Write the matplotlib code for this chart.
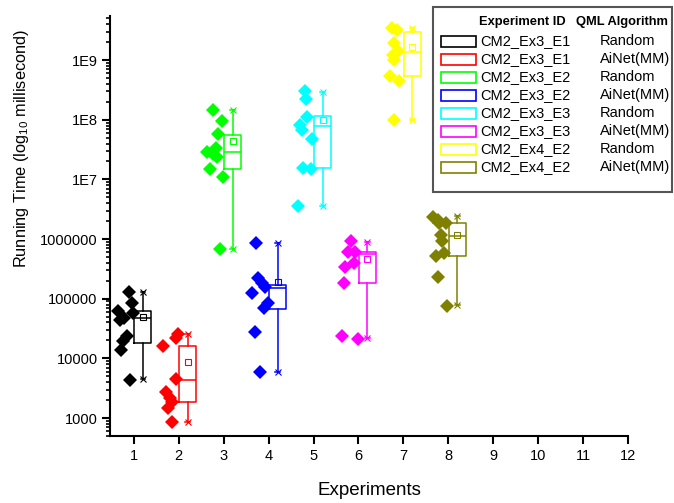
import matplotlib.pyplot as plt
from matplotlib.patches import Rectangle
from matplotlib.ticker import FixedLocator, FixedFormatter, LogLocator, NullFormatter

plt.rcParams['font.family'] = ['Liberation Sans', 'DejaVu Sans']
plt.rcParams['mathtext.fontset'] = 'custom'
plt.rcParams['mathtext.rm'] = 'Liberation Sans'
plt.rcParams['mathtext.it'] = 'Liberation Sans:italic'

# Experiment ID / QML algorithm per box
exp_ids = ['CM2_Ex3_E1', 'CM2_Ex3_E1', 'CM2_Ex3_E2', 'CM2_Ex3_E2',
           'CM2_Ex3_E3', 'CM2_Ex3_E3', 'CM2_Ex4_E2', 'CM2_Ex4_E2']
algorithms = ['Random', 'AiNet(MM)', 'Random', 'AiNet(MM)',
              'Random', 'AiNet(MM)', 'Random', 'AiNet(MM)']
colors = ['#000000', '#ff0000', '#00ff00', '#0000ff',
          '#00ffff', '#ff00ff', '#ffff00', '#808000']

# running times (ms)
run_ex3_e1_random = [129000, 84600, 62100, 57500, 47400, 43900, 23700, 19500, 13800, 4330]
run_ex3_e1_ainet = [25600, 21900, 16100, 4500, 2730, 2160, 1850, 1470, 857]
run_ex3_e2_random = [145e6, 95e6, 57.5e6, 33.5e6, 28.7e6, 26.6e6, 23.7e6, 14.9e6, 10.9e6, 680e3]
run_ex3_e2_ainet = [847e3, 219e3, 181e3, 155e3, 126e3, 83.6e3, 68.9e3, 27.3e3, 5970]
run_ex3_e3_random = [306e6, 222e6, 111e6, 81.3e6, 67.1e6, 48.3e6, 15.7e6, 15.2e6, 3.64e6]
run_ex3_e3_ainet = [925e3, 598e3, 598e3, 391e3, 343e3, 181e3, 23.7e3, 20.8e3]
run_ex4_e2_random = [3.40e9, 3.18e9, 1.95e9, 1.43e9, 1.21e9, 1.0e9, 5.39e8, 4.44e8, 9.87e7]
run_ex4_e2_ainet = [2.36e6, 2.08e6, 1.83e6, 1.83e6, 1.17e6, 944e3, 582e3, 529e3, 233e3, 76.8e3]

# horizontal scatter of the points left of each box
jit_1 = [-0.11, -0.05, -0.36, -0.02, -0.22, -0.31, -0.16, -0.24, -0.28, -0.09]
jit_2 = [-0.02, -0.07, -0.36, -0.06, -0.29, -0.20, -0.14, -0.25, -0.16]
jit_3 = [-0.24, -0.04, -0.12, -0.17, -0.37, -0.24, -0.15, -0.30, -0.02, -0.08]
jit_4 = [-0.28, -0.23, -0.15, -0.08, -0.36, -0.01, -0.10, -0.31, -0.20]
jit_5 = [-0.20, -0.16, -0.14, -0.29, -0.26, -0.03, -0.23, -0.06, -0.35]
jit_6 = [-0.16, -0.24, -0.07, -0.09, -0.29, -0.33, -0.36, -0.01]
jit_7 = [-0.25, -0.14, -0.20, -0.11, -0.24, -0.20, -0.29, -0.10, -0.20]
jit_8 = [-0.35, -0.24, -0.06, -0.20, -0.17, -0.13, -0.10, -0.27, -0.24, -0.02]

# box statistics as drawn
box_lo = [4440, 867, 670e3, 5970, 3.6e6, 21.8e3, 9.87e7, 77.5e3]
box_q1 = [18400, 1850, 15.0e6, 68e3, 15.8e6, 181e3, 5.39e8, 519e3]
box_med = [46800, 4330, 28.7e6, 150e3, 79.8e6, 554e3, 1.38e9, 1.12e6]
box_q3 = [62800, 16300, 56.6e6, 173e3, 115e6, 598e3, 2.91e9, 1.83e6]
box_hi = [130e3, 25600, 145e6, 870e3, 294e6, 902e3, 3.48e9, 2.42e6]
box_mean = [49000, 8800, 44.5e6, 190e3, 97.5e6, 457e3, 1.67e9, 1.17e6]

xticks = list(range(1, 13))
ytick_vals = [1e3, 1e4, 1e5, 1e6, 1e7, 1e8, 1e9]
ytick_labels = ['1000', '10000', '100000', '1000000', '1E7', '1E8', '1E9']

runs = [run_ex3_e1_random, run_ex3_e1_ainet, run_ex3_e2_random, run_ex3_e2_ainet,
        run_ex3_e3_random, run_ex3_e3_ainet, run_ex4_e2_random, run_ex4_e2_ainet]
jitters = [jit_1, jit_2, jit_3, jit_4, jit_5, jit_6, jit_7, jit_8]

W, H = 674, 503
fig = plt.figure(figsize=(W / 100, H / 100), dpi=100)
ax = fig.add_axes([110 / W, 1 - 436 / H, 518 / W, 420 / H])

for i in range(8):
    pos = i + 1
    c = colors[i]
    xs = [pos + j for j in jitters[i]]
    ax.plot(xs, runs[i], 'D', color=c, ms=7, mew=0, zorder=3)

    stats = [{'whislo': box_lo[i], 'q1': box_q1[i], 'med': box_med[i],
              'q3': box_q3[i], 'whishi': box_hi[i], 'mean': box_mean[i], 'fliers': []}]
    ax.bxp(stats, positions=[pos + 0.2], widths=0.38, showmeans=True,
           capwidths=0.1, manage_ticks=False,
           boxprops=dict(color=c, lw=1.1),
           whiskerprops=dict(color=c, lw=1.1),
           capprops=dict(color=c, lw=1.1),
           medianprops=dict(color=c, lw=1.1),
           meanprops=dict(marker='s', markerfacecolor='none', markeredgecolor=c,
                          markersize=4, markeredgewidth=0.8))
    ax.plot([pos + 0.2, pos + 0.2], [box_lo[i], box_hi[i]], 'x', color=c,
            ms=4, mew=0.8, zorder=4)

ax.set_yscale('log')
ax.set_xlim(0.47, 12)
ax.set_ylim(500, 5.5e9)
ax.xaxis.set_major_locator(FixedLocator(xticks))
ax.yaxis.set_major_locator(FixedLocator(ytick_vals))
ax.yaxis.set_major_formatter(FixedFormatter(ytick_labels))
ax.yaxis.set_minor_locator(LogLocator(base=10, subs=range(2, 10), numticks=20))
ax.yaxis.set_minor_formatter(NullFormatter())

for s in ['top', 'right']:
    ax.spines[s].set_visible(False)
for s in ['left', 'bottom']:
    ax.spines[s].set_linewidth(1.5)
ax.tick_params(axis='both', which='major', direction='out', length=6, width=1.5,
               labelsize=10.5, pad=3)
ax.tick_params(axis='y', which='minor', direction='out', length=3, width=1.2)

ax.set_xlabel('Experiments', fontsize=13.5)
ax.xaxis.set_label_coords(0.5, -0.11)
ax.set_ylabel(r'Running Time (log$_{10}$ millisecond)', fontsize=11.8)
ax.yaxis.set_label_coords(-0.152, 0.685)


def fx(x):
    return x / W


def fy(y):
    return 1 - y / H


# legend box drawn by hand (three columns)
fig.add_artist(Rectangle((fx(433), fy(192)), fx(672) - fx(433), fy(7) - fy(192),
                         transform=fig.transFigure, fill=False, ec='#555555', lw=1.5))
fig.text(fx(479), fy(22), 'Experiment ID', fontsize=9.3, fontweight='bold', va='center')
fig.text(fx(576), fy(22), 'QML Algorithm', fontsize=9.3, fontweight='bold', va='center')
for i in range(8):
    yc = 41 + i * 18
    fig.add_artist(Rectangle((fx(441), fy(yc + 5.5)), fx(35), fy(0) - fy(11),
                             transform=fig.transFigure, fill=False, ec=colors[i], lw=1.2))
    fig.text(fx(480), fy(yc), exp_ids[i], fontsize=10.5, va='center')
    fig.text(fx(600), fy(yc), algorithms[i], fontsize=10.5, va='center')

fig.savefig('out.png', dpi=100)
